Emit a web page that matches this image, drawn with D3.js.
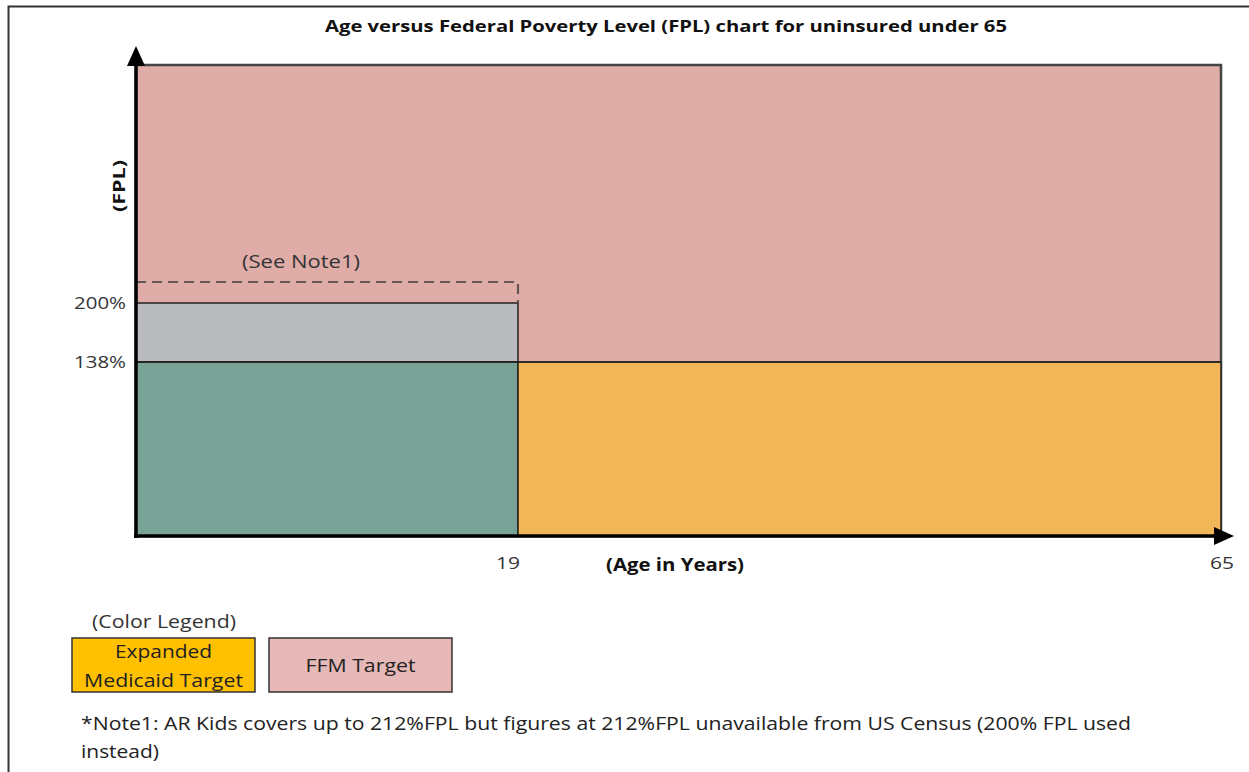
<!DOCTYPE html>
<html><head><meta charset="utf-8">
<script src="https://cdn.jsdelivr.net/npm/d3@7"></script>
<style>body{margin:0;background:#fff;}svg{display:block;}text{font-family:"Open Sans",sans-serif;}</style>
</head><body>
<svg id="c" width="1249" height="772"></svg>
<script>
// Data
const title = "Age versus Federal Poverty Level (FPL) chart for uninsured under 65";
const ageTicks = [19, 65];
const fplTicks = ["138%", "200%"];
const fplTickValues = [138, 200];
const noteLevel = 212;
const regionNames = ["FFM Target", "Gray zone", "Under-19 Medicaid", "Expanded Medicaid Target"];
const regionAge0 = [0, 0, 0, 19];
const regionAge1 = [65, 19, 19, 65];
const regionFpl0 = [0, 138, 0, 0];
const regionFpl1 = [400, 200, 138, 138];
const regionColors = ["#e0aca8", "#babbbf", "#7aa398", "#f0b657"];
const legendLabels = [["Expanded", "Medicaid Target"], ["FFM Target"]];
const legendColors = ["#ffc000", "#e6b8b7"];
const noteLines = ["*Note1: AR Kids covers up to 212%FPL but figures at 212%FPL unavailable from US Census (200% FPL used", "instead)"];

const svg = d3.select("#c");
// schematic (piecewise) scales
const x = d3.scaleLinear().domain([0, 19, 65]).range([136, 518, 1221]);
const y = d3.scaleLinear().domain([0, 138, 200, 212, 400]).range([536, 362, 303, 282, 65]);

function txt(px, py, s, opts) {
  const t = svg.append("text").attr("x", px).attr("y", py).text(s)
    .attr("font-size", opts.size || 18).attr("fill", opts.fill || "#2a2a2a")
    .attr("text-anchor", opts.anchor || "start");
  if (opts.bold) t.attr("font-weight", "bold");
  if (opts.len) t.attr("textLength", opts.len).attr("lengthAdjust", "spacingAndGlyphs");
  if (opts.transform) t.attr("transform", opts.transform);
  return t;
}

// outer frame
svg.append("rect").attr("x", 8.5).attr("y", 6.5).attr("width", 1260).attr("height", 800)
  .attr("fill", "none").attr("stroke", "#333").attr("stroke-width", 2);

// title
txt(666, 32, title, {anchor: "middle", bold: true, size: 16, fill: "#111", len: 682});

// regions
regionNames.forEach((n, i) => {
  const r = svg.append("rect")
    .attr("x", x(regionAge0[i])).attr("y", y(regionFpl1[i]))
    .attr("width", x(regionAge1[i]) - x(regionAge0[i]))
    .attr("height", y(regionFpl0[i]) - y(regionFpl1[i]))
    .attr("fill", regionColors[i]);
  if (i === 0) r.attr("stroke", "#444").attr("stroke-width", 2.5);
  else r.attr("stroke", "#222").attr("stroke-width", 1.5);
});
svg.append("line").attr("x1", x(0)).attr("x2", x(65)).attr("y1", y(138)).attr("y2", y(138))
  .attr("stroke", "#222").attr("stroke-width", 1.5);

// dashed note line
svg.append("path")
  .attr("d", `M${x(0)},${y(noteLevel)} H${x(19)} V${y(200)}`)
  .attr("fill", "none").attr("stroke", "#665555").attr("stroke-width", 2.2).attr("stroke-dasharray", "10,6");
txt(301, 268, "(See Note1)", {anchor: "middle", size: 18, len: 118, fill: "#333"});

// axes
svg.append("line").attr("x1", 136).attr("x2", 136).attr("y1", 538).attr("y2", 62).attr("stroke", "#000").attr("stroke-width", 3.5);
svg.append("path").attr("d", "M136,46 L145,66 L127,66 Z").attr("fill", "#000");
svg.append("line").attr("x1", 134).attr("x2", 1218).attr("y1", 536).attr("y2", 536).attr("stroke", "#000").attr("stroke-width", 3.5);
svg.append("path").attr("d", "M1234,536 L1214,527 L1214,545 Z").attr("fill", "#000");

// y tick labels
fplTicks.forEach((t, i) => {
  txt(126, y(fplTickValues[i]) + 6, t, {anchor: "end", size: 17, len: 52, fill: "#333"});
});
// x tick labels
const xOff = [-10, 1];
ageTicks.forEach((a, i) => {
  txt(x(a) + xOff[i], 569, a, {anchor: "middle", size: 17, len: 24, fill: "#333"});
});
txt(675, 571, "(Age in Years)", {anchor: "middle", bold: true, size: 17, fill: "#111", len: 138});
txt(0, 0, "(FPL)", {anchor: "middle", bold: true, size: 16, fill: "#111", len: 52, transform: "translate(125,186) rotate(-90)"});

// legend
txt(164, 628, "(Color Legend)", {anchor: "middle", size: 18, len: 144, fill: "#333"});
const lx = [72, 269];
const lens = [[97, 159], [110]];
legendLabels.forEach((lab, i) => {
  svg.append("rect").attr("x", lx[i]).attr("y", 638).attr("width", 183).attr("height", 54)
    .attr("fill", legendColors[i]).attr("stroke", "#333").attr("stroke-width", 1.5);
  const cy = lab.length === 2 ? [658, 687] : [672];
  lab.forEach((l, j) => {
    txt(lx[i] + 91.5, cy[j], l, {anchor: "middle", size: 18, fill: "#222", len: lens[i][j]});
  });
});

// note
noteLines.forEach((l, j) => {
  txt(81, 730 + j * 28, l, {size: 18, fill: "#222", len: j === 0 ? 1050 : 78});
});
</script>
</body></html>
